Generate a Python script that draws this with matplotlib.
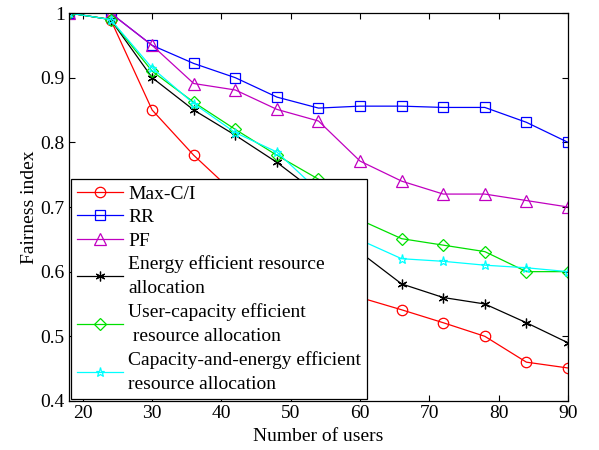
import matplotlib
matplotlib.use("Agg")
import matplotlib.pyplot as plt

plt.rcParams['font.family'] = ['Liberation Serif', 'DejaVu Serif']
plt.rcParams['mathtext.fontset'] = 'stix'

users = [18, 24, 30, 36, 42, 48, 54, 60, 66, 72, 78, 84, 90]
max_ci = [1.0, 0.99, 0.85, 0.78, 0.72, 0.665, 0.61, 0.56, 0.541, 0.521, 0.50, 0.46, 0.451]
rr = [1.0, 1.0, 0.95, 0.922, 0.90, 0.87, 0.853, 0.856, 0.856, 0.854, 0.854, 0.831, 0.80]
pf = [1.0, 1.0, 0.95, 0.891, 0.881, 0.851, 0.833, 0.771, 0.740, 0.72, 0.72, 0.71, 0.70]
energy = [1.0, 0.99, 0.90, 0.85, 0.811, 0.769, 0.72, 0.63, 0.581, 0.56, 0.55, 0.521, 0.49]
user_cap = [1.0, 0.99, 0.91, 0.862, 0.82, 0.78, 0.743, 0.68, 0.651, 0.641, 0.631, 0.60, 0.60]
cap_energy = [1.0, 0.99, 0.915, 0.86, 0.815, 0.785, 0.725, 0.649, 0.62, 0.616, 0.61, 0.606, 0.60]

labels = ['Max-C/I', 'RR', 'PF',
          'Energy efficient resource\nallocation',
          'User-capacity efficient\n resource allocation',
          'Capacity-and-energy efficient\nresource allocation']

xticks = [20, 30, 40, 50, 60, 70, 80, 90]
yticks = [0.4, 0.5, 0.6, 0.7, 0.8, 0.9, 1.0]
yticklabels = ['0.4', '0.5', '0.6', '0.7', '0.8', '0.9', '1']

fig = plt.figure(figsize=(5.99, 4.5), dpi=100)
ax = fig.add_axes([0.1152, 0.109, 0.833, 0.862])

series = [max_ci, rr, pf, energy, user_cap, cap_energy]
colors = ['#ff0000', '#0000ff', '#c000c0', '#000000', '#00e000', '#00ffff']
markers = ['o', 's', '^', (6, 2, 0), 'D', '*']
msizes = [7.5, 7.5, 8, 7, 6.5, 6.5]

for y, c, m, ms, lab in zip(series, colors, markers, msizes, labels):
    ax.plot(users, y, color=c, lw=0.9, marker=m, ms=ms, mfc='none', mec=c,
            mew=0.9, label=lab)

ax.set_xlim(18, 90)
ax.set_ylim(0.4, 1.0)
ax.set_xticks(xticks)
ax.set_yticks(yticks)
ax.set_yticklabels(yticklabels)
ax.tick_params(direction='in', top=True, right=True, length=4, width=0.8,
               labelsize=14, pad=3)
for s in ax.spines.values():
    s.set_linewidth(0.9)

ax.set_xlabel('Number of users', fontsize=14, labelpad=4)
ax.set_ylabel('Fairness index', fontsize=14, labelpad=2)

leg = ax.legend(loc='lower left', bbox_to_anchor=(0.0, 0.0), borderaxespad=0.1,
                fontsize=14, frameon=True, fancybox=False, edgecolor='black',
                framealpha=1.0, handlelength=2.4, handletextpad=0.25,
                labelspacing=0.3, borderpad=0.3)
leg.get_frame().set_linewidth(0.9)
for t in leg.get_texts():
    t.set_linespacing(1.55)

fig.savefig('out.png', dpi=100)
